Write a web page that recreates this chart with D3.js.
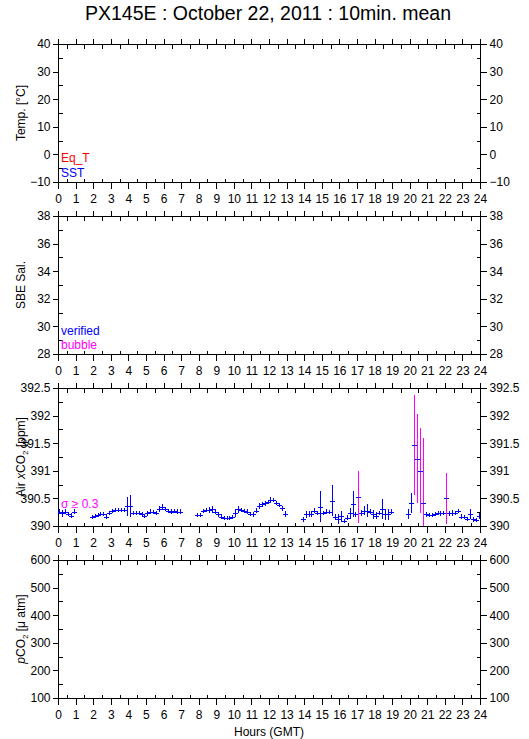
<!DOCTYPE html>
<html>
<head>
<meta charset="utf-8">
<script src="https://cdn.jsdelivr.net/npm/d3@7"></script>
<style>
html,body{margin:0;padding:0;background:#fff;}
svg{display:block;}
text{font-family:"Liberation Sans",Arial,Helvetica,sans-serif;}
</style>
</head>
<body>
<div id="chart"></div>
<script>
// ---------------- data ----------------
const title = "PX145E : October 22, 2011 : 10min. mean";
const hourTicks = d3.range(0, 25);
const halfHourTicks = d3.range(0.5, 24, 1);

const tempTicks = [-10, 0, 10, 20, 30, 40];
const tempMinor = [-5, 5, 15, 25, 35];
const salTicks = [28, 30, 32, 34, 36, 38];
const salMinor = [29, 31, 33, 35, 37];
const co2Ticks = [390, 390.5, 391, 391.5, 392, 392.5];
const co2Minor = [390.25, 390.75, 391.25, 391.75, 392.25];
const pco2Ticks = [100, 200, 300, 400, 500, 600];
const pco2Minor = [150, 250, 350, 450, 550];

// 10-minute means, each segment starts at the given bin centre (hours)
const segStarts = [5/60, 1 + 55/60, 7 + 55/60, 13 + 55/60, 19 + 55/60];
const xco2Seg1 = [390.26, 390.23, 390.26, 390.22, 390.19, 390.26];
const sigmaSeg1 = [0.04, 0.06, 0.04, 0.04, 0.04, 0.04];
const xco2Seg2 = [390.16, 390.18, 390.20, 390.22, 390.22, 390.17, 390.24, 390.27, 390.29, 390.29, 390.29, 390.29, 390.36, 390.37, 390.24, 390.24, 390.24, 390.22, 390.18, 390.23, 390.26, 390.25, 390.24, 390.31, 390.34, 390.31, 390.27, 390.26, 390.27, 390.26, 390.26];
const sigmaSeg2 = [0.04, 0.04, 0.04, 0.04, 0.04, 0.04, 0.04, 0.04, 0.04, 0.04, 0.04, 0.04, 0.17, 0.20, 0.04, 0.04, 0.04, 0.04, 0.04, 0.04, 0.04, 0.04, 0.04, 0.05, 0.05, 0.04, 0.04, 0.04, 0.04, 0.04, 0.04];
const xco2Seg3 = [390.20, 390.20, 390.27, 390.29, 390.29, 390.30, 390.26, 390.21, 390.17, 390.15, 390.14, 390.14, 390.16, 390.24, 390.30, 390.29, 390.27, 390.26, 390.22, 390.21, 390.28, 390.36, 390.39, 390.41, 390.43, 390.48, 390.47, 390.42, 390.38, 390.32, 390.22];
const sigmaSeg3 = [0.04, 0.04, 0.04, 0.04, 0.06, 0.06, 0.04, 0.04, 0.04, 0.04, 0.04, 0.04, 0.04, 0.07, 0.07, 0.04, 0.04, 0.04, 0.04, 0.04, 0.04, 0.06, 0.04, 0.04, 0.04, 0.04, 0.04, 0.04, 0.04, 0.04, 0.05];
const xco2Seg4 = [390.12, 390.21, 390.22, 390.22, 390.28, 390.24, 390.35, 390.24, 390.26, 390.25, 390.46, 390.16, 390.12, 390.18, 390.09, 390.15, 390.23, 390.40, 390.21, 390.53, 390.24, 390.28, 390.28, 390.26, 390.21, 390.19, 390.24, 390.31, 390.21, 390.21, 390.26];
const sigmaSeg4 = [0.05, 0.06, 0.05, 0.06, 0.05, 0.04, 0.28, 0.04, 0.04, 0.04, 0.28, 0.05, 0.09, 0.10, 0.04, 0.05, 0.10, 0.23, 0.05, 0.47, 0.05, 0.08, 0.12, 0.05, 0.08, 0.06, 0.04, 0.18, 0.10, 0.10, 0.04];
const xco2Seg5 = [390.21, 390.41, 391.47, 391.22, 391.00, 390.42, 390.21, 390.20, 390.20, 390.22, 390.24, 390.23, 390.24, 390.50, 390.23, 390.24, 390.24, 390.27, 390.17, 390.16, 390.13, 390.22, 390.12, 390.11, 390.18];
const sigmaSeg5 = [0.09, 0.18, 0.91, 0.80, 0.77, 1.17, 0.04, 0.04, 0.04, 0.04, 0.04, 0.04, 0.04, 0.46, 0.04, 0.05, 0.04, 0.04, 0.04, 0.04, 0.04, 0.09, 0.04, 0.04, 0.05];

const sigmaThreshold = 0.3;

// ---------------- layout ----------------
const W = 529, H = 739;
const left = 58, right = 480;
const panelTops = [44, 216, 388, 560];
const panelH = 138;
const BLUE = "#0000ff", MAGENTA = "#ff00ff", RED = "#ff0000";
const FS = 12;

const svg = d3.select("#chart").append("svg").attr("width", W).attr("height", H);

svg.append("text").attr("x", 268).attr("y", 20).attr("text-anchor", "middle")
  .attr("font-size", 19.5).text(title);

const x = d3.scaleLinear().domain([0, 24]).range([left, right]);

const panels = [
  {domain: [-10, 40], major: tempTicks, minor: tempMinor, fmt: d3.format("d")},
  {domain: [28, 38], major: salTicks, minor: salMinor, fmt: d3.format("d")},
  {domain: [390, 392.5], major: co2Ticks, minor: co2Minor, fmt: d => String(+d.toFixed(1))},
  {domain: [100, 600], major: pco2Ticks, minor: pco2Minor, fmt: d3.format("d")}
];

function styleAxis(g) {
  g.select(".domain").remove();
  g.selectAll("line").attr("stroke", "#000").attr("shape-rendering", "crispEdges");
  g.selectAll("text").attr("font-family", "Liberation Sans, Arial, sans-serif").attr("font-size", FS).attr("fill", "#000");
}

panels.forEach((p, i) => {
  const top = panelTops[i], bottom = top + panelH;
  p.y = d3.scaleLinear().domain(p.domain).range([bottom, top]);
  const g = svg.append("g");
  g.append("rect").attr("x", left + 0.5).attr("y", top + 0.5)
    .attr("width", right - left).attr("height", panelH)
    .attr("fill", "none").attr("stroke", "#000").attr("shape-rendering", "crispEdges");
  g.append("g").attr("transform", `translate(${left + 0.5},0)`)
    .call(d3.axisLeft(p.y).tickValues(p.major).tickSize(6).tickPadding(2).tickFormat(p.fmt)).call(styleAxis);
  g.append("g").attr("transform", `translate(${left + 0.5},0)`)
    .call(d3.axisLeft(p.y).tickValues(p.minor).tickSize(-4).tickFormat("")).call(styleAxis);
  g.append("g").attr("transform", `translate(${right + 0.5},0)`)
    .call(d3.axisRight(p.y).tickValues(p.major).tickSize(6).tickPadding(3).tickFormat(p.fmt)).call(styleAxis);
  g.append("g").attr("transform", `translate(${right + 0.5},0)`)
    .call(d3.axisRight(p.y).tickValues(p.minor).tickSize(-4).tickFormat("")).call(styleAxis);
  g.append("g").attr("transform", `translate(0,${top + 0.5})`)
    .call(d3.axisTop(x).tickValues(hourTicks).tickSize(6).tickFormat("")).call(styleAxis);
  g.append("g").attr("transform", `translate(0,${top + 0.5})`)
    .call(d3.axisTop(x).tickValues(halfHourTicks).tickSize(-4).tickFormat("")).call(styleAxis);
  g.append("g").attr("transform", `translate(0,${bottom + 0.5})`)
    .call(d3.axisBottom(x).tickValues(hourTicks).tickSize(6).tickPadding(6).tickFormat(d3.format("d"))).call(styleAxis);
  g.append("g").attr("transform", `translate(0,${bottom + 0.5})`)
    .call(d3.axisBottom(x).tickValues(halfHourTicks).tickSize(-4).tickFormat("")).call(styleAxis);
});

function yTitle(i) {
  const cy = panelTops[i] + panelH / 2;
  return svg.append("text").attr("text-anchor", "middle").attr("font-size", FS)
    .attr("transform", `translate(25,${cy}) rotate(-90)`);
}
yTitle(0).text("Temp. [°C]");
yTitle(1).text("SBE Sal.");
{
  const t = yTitle(2);
  t.append("tspan").text("Air ");
  t.append("tspan").attr("font-style", "italic").text("x");
  t.append("tspan").text("CO");
  t.append("tspan").attr("font-size", 8).attr("dy", 3).text("2");
  t.append("tspan").attr("dy", -3).text(" [ppm]");
}
{
  const t = yTitle(3);
  t.append("tspan").attr("font-style", "italic").text("p");
  t.append("tspan").text("CO");
  t.append("tspan").attr("font-size", 8).attr("dy", 3).text("2");
  t.append("tspan").attr("dy", -3).text(" [μ atm]");
}

svg.append("text").attr("x", x(12)).attr("y", 736).attr("text-anchor", "middle")
  .attr("font-size", FS).text("Hours (GMT)");

svg.append("text").attr("x", 61).attr("y", 162).attr("font-size", FS).attr("fill", RED).text("Eq_T");
svg.append("text").attr("x", 61).attr("y", 177).attr("font-size", FS).attr("fill", BLUE).text("SST");
svg.append("text").attr("x", 61).attr("y", 335).attr("font-size", FS).attr("fill", BLUE).text("verified");
svg.append("text").attr("x", 61).attr("y", 349).attr("font-size", FS).attr("fill", MAGENTA).text("bubble");
svg.append("text").attr("x", 61).attr("y", 508).attr("font-size", FS).attr("fill", MAGENTA).text("σ ≥ 0.3");

const segs = [[xco2Seg1, sigmaSeg1], [xco2Seg2, sigmaSeg2], [xco2Seg3, sigmaSeg3], [xco2Seg4, sigmaSeg4], [xco2Seg5, sigmaSeg5]];
const points = [];
segs.forEach(([vals, sig], s) => {
  vals.forEach((v, k) => points.push({t: segStarts[s] + k / 6, v: v, s: sig[k]}));
});

const yc = panels[2].y;
svg.append("clipPath").attr("id", "clip3").append("rect")
  .attr("x", left).attr("y", panelTops[2]).attr("width", right - left).attr("height", panelH);
const dg = svg.append("g").attr("clip-path", "url(#clip3)");
const halfW = 2;
dg.selectAll("line.err").data(points).join("line").attr("class", "err")
  .attr("x1", d => Math.round(x(d.t)) + 0.5).attr("x2", d => Math.round(x(d.t)) + 0.5)
  .attr("y1", d => yc(d.v - d.s)).attr("y2", d => yc(d.v + d.s))
  .attr("stroke", d => d.s >= sigmaThreshold ? MAGENTA : BLUE).attr("stroke-width", 1)
  .attr("shape-rendering", "crispEdges");
dg.selectAll("line.mean").data(points).join("line").attr("class", "mean")
  .attr("x1", d => Math.round(x(d.t)) - halfW).attr("x2", d => Math.round(x(d.t)) + halfW + 1)
  .attr("y1", d => Math.round(yc(d.v)) + 0.5).attr("y2", d => Math.round(yc(d.v)) + 0.5)
  .attr("stroke", BLUE).attr("stroke-width", 1).attr("shape-rendering", "crispEdges");
</script>
</body>
</html>
